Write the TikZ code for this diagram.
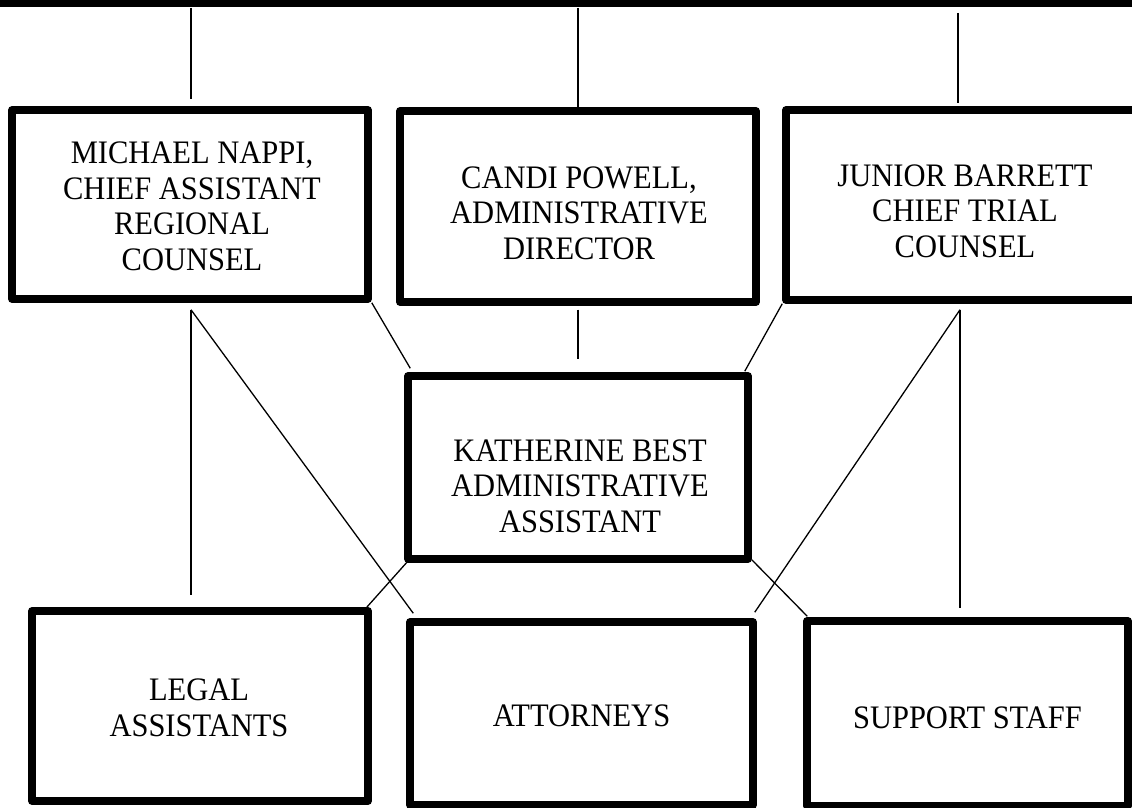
\documentclass[tikz,border=0pt]{standalone}
\usepackage{fontspec}
\setmainfont{Liberation Serif}[FakeStretch=0.93]
\usetikzlibrary{calc}
\tikzset{
  orgbox/.style={draw=black,line width=3.75pt,inner sep=0pt,fill=white},
  orgtext/.style={align=center,inner sep=0pt,font=\fontsize{16.4}{17.8}\selectfont},
  link/.style={draw=black,line width=.65pt},
  band/.style={fill=black,inner sep=0pt,minimum width=566pt,minimum height=3.75pt}
}
\begin{document}
\begin{tikzpicture}[x=0.5pt,y=-0.5pt,line join=round]
\useasboundingbox (0,0) rectangle (1132,808);
\node[band] (band) at (566,3.75) {};
% top row
\node[orgbox,minimum width=178pt,minimum height=94.5pt] (nappi) at (190,204.5) {};
\node[orgbox,minimum width=178pt,minimum height=95.5pt] (powell) at (578,206.5) {};
\node[orgbox,minimum width=179pt,minimum height=95pt] (barrett) at (965,205) {};
% middle
\node[orgbox,minimum width=170pt,minimum height=91.5pt] (kb) at (578,467.5) {};
% bottom row
\node[orgbox,minimum width=168pt,minimum height=95pt] (legal) at (200,706) {};
\node[orgbox,minimum width=171.5pt,minimum height=91.5pt] (attorneys) at (581.5,713.5) {};
\node[orgbox,minimum width=160.5pt,minimum height=92.5pt] (support) at (967.5,713.5) {};
\node[orgtext] (nappi text) at ($(nappi)+(2,2)$) {MICHAEL NAPPI,\\CHIEF ASSISTANT\\REGIONAL\\COUNSEL};
\node[orgtext] (powell text) at ($(powell)+(1,6.5)$) {CANDI POWELL,\\ADMINISTRATIVE\\DIRECTOR};
\node[orgtext] (barrett text) at ($(barrett)+(0,6)$) {JUNIOR BARRETT\\CHIEF TRIAL\\COUNSEL};
\node[orgtext] (kb text) at ($(kb)+(2,18.5)$) {KATHERINE BEST\\ADMINISTRATIVE\\ASSISTANT};
\node[orgtext] (legal text) at ($(legal)+(-1,2)$) {LEGAL\\ASSISTANTS};
\node[orgtext] (attorneys text) at ($(attorneys)+(0,2)$) {ATTORNEYS};
\node[orgtext] (support text) at ($(support)+(0,4)$) {SUPPORT STAFF};
\coordinate (nappi fork) at ($(nappi.south)+(1,7)$);
\coordinate (barrett fork) at ($(barrett.south)+(-5,6)$);
\draw[link] ($(nappi.north |- band.south)+(1,0)$) -- ($(nappi.north)+(1,-7)$);
\draw[link] (powell.north |- band.south) -- (powell.north);
\draw[link] ($(barrett.north |- band.south)+(-7,5)$) -- ($(barrett.north)+(-7,-3)$);
\draw[link] (nappi fork) -- ($(nappi fork |- legal.north)+(0,-12)$);
\draw[link] (nappi fork) -- ($(attorneys.north west)+(7,-5)$);
\draw[link] (nappi.south east) -- ($(kb.north west)+(6,-4)$);
\draw[link] ($(powell.south)+(0,4)$) -- ($(kb.north)+(0,-13)$);
\draw[link] (barrett.south west) -- ($(kb.north east)+(-7,-1)$);
\draw[link] (barrett fork) -- ($(barrett fork |- support.north)+(0,-9)$);
\draw[link] (barrett fork) -- ($(attorneys.north east)+(-2,-6)$);
\draw[link] ($(kb.south west)+(4,-2)$) -- ($(legal.north east)+(-5,0)$);
\draw[link] ($(kb.south east)+(0,-3)$) -- ($(support.north west)+(4,-1)$);
\end{tikzpicture}
\end{document}
